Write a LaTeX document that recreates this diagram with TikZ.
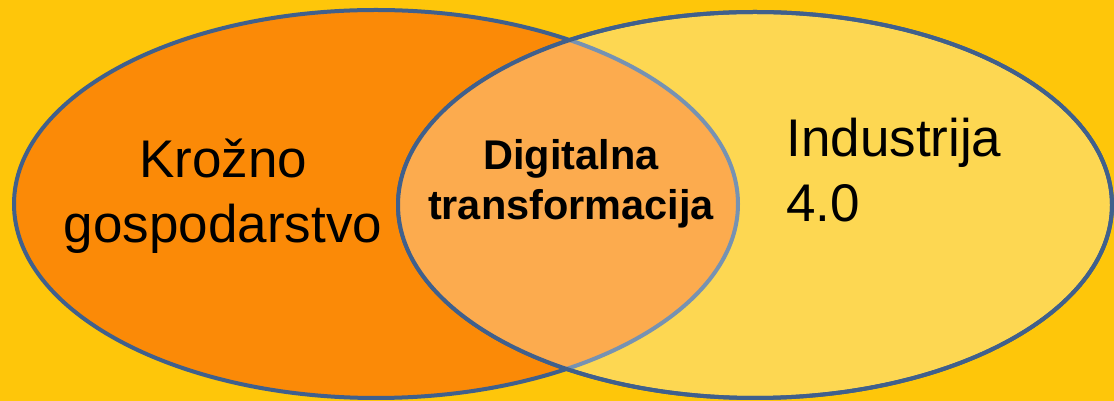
\documentclass[tikz,border=0pt]{standalone}
\usepackage{fontspec}
\setmainfont{Liberation Sans}
\usepackage{tikz}
\usetikzlibrary{positioning}
\definecolor{bgyellow}{RGB}{254, 198, 10}
\definecolor{setorange}{RGB}{251, 138, 7}
\definecolor{setyellow}{RGB}{253, 215, 82}
\definecolor{lensorange}{RGB}{252, 171, 78}
\definecolor{rim}{RGB}{64, 96, 140}
\definecolor{lightrim}{RGB}{118, 146, 178}
\tikzstyle{leftset} = [draw=rim, line width=2pt, fill=setorange]
\tikzstyle{rightset} = [draw=rim, line width=2pt, fill=setyellow]
\tikzstyle{lens} = [draw=lightrim, line width=2pt, fill=lensorange]
\tikzstyle{rimonly} = [draw=rim, line width=2pt]
\tikzstyle{setname} = [draw=none, fill=none, inner sep=0pt, text=black, font=\fontsize{26.5}{32.5}\selectfont]
\tikzstyle{lensname} = [draw=none, fill=none, inner sep=0pt, text=black, align=center, font=\fontsize{20.75}{25}\selectfont\bfseries]
\begin{document}
\begin{tikzpicture}[x=0.5pt, y=0.5pt]
%sets=========================
\fill[bgyellow] (0,0) rectangle (1114,401);
\useasboundingbox (0,0) rectangle (1114,401);

\path[leftset] (376,197) ellipse (362 and 194);
\path[rightset] (755,196) ellipse (357 and 193);
\begin{scope}
\clip (755,196) ellipse (357 and 193);
\path[lens] (376,197) ellipse (362 and 194);
\end{scope}
\path[rimonly] (755,196) ellipse (357 and 193);

% names
\node[setname, align=center, anchor=base] (krozno) at (223,158) {Krožno\\gospodarstvo};
\node[setname, align=left, anchor=base west] (industrija) at (786,179) {Industrija\\4.0};
\node[lensname, anchor=base] (digitalna) at (571,181) {Digitalna\\transformacija};

\end{tikzpicture}
\end{document}
